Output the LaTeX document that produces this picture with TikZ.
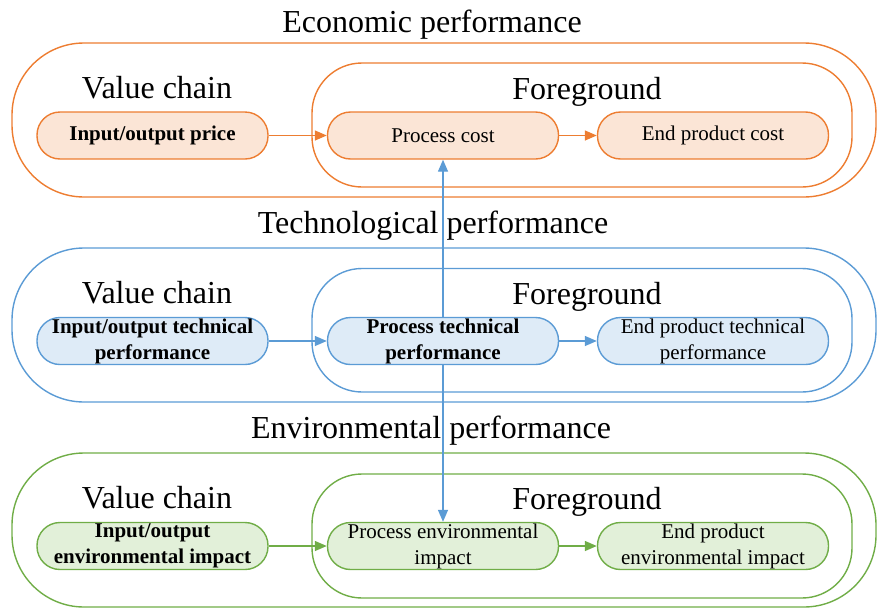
\documentclass[tikz,border=0pt]{standalone}
\usepackage{fontspec}
\setmainfont{Liberation Serif}
\usetikzlibrary{arrows.meta}

\definecolor{ecoline}{HTML}{ED7D31}
\definecolor{ecofill}{HTML}{FBE5D6}
\definecolor{techline}{HTML}{5B9BD5}
\definecolor{techfill}{HTML}{DEEBF7}
\definecolor{envline}{HTML}{70AD47}
\definecolor{envfill}{HTML}{E2F0D9}

\begin{document}
\begin{tikzpicture}[x=1pt, y=-1pt,
    outerband/.style={line width=1.4pt, rounded corners=72pt},
    innerband/.style={line width=1.4pt, rounded corners=50pt},
    heading/.style={anchor=base, font=\fontsize{32}{36}\selectfont},
    stage/.style={line width=1.4pt, rounded corners=23pt, minimum width=231pt,
                  minimum height=47pt, inner sep=0pt, align=center,
                  font=\fontsize{21}{26}\selectfont},
    flow/.style={line width=1.4pt, -{Triangle[length=12pt, width=10pt]}},
    link/.style={line width=1.4pt, {Triangle[length=12pt, width=10pt]}-{Triangle[length=12pt, width=10pt]}}]
    \useasboundingbox (0,0) rectangle (877,608);

    % economic
    \draw [ecoline, outerband] (12,43) rectangle (876,197);
    \draw [ecoline, innerband] (312,63) rectangle (852,187);
    \node [heading] (ecotitle) at (432,32) {Economic performance};
    \node [heading] (ecovc) at (157,98) {Value chain};
    \node [heading] (ecofg) at (587,99) {Foreground};
    \node [stage, draw=ecoline, fill=ecofill] (ioprice) at (152.5,135.5) {\textbf{Input/output price}};
    \node [stage, draw=ecoline, fill=ecofill] (pcost) at (443,135.5) {Process cost};
    \node [stage, draw=ecoline, fill=ecofill] (ecost) at (713,135.5) {End product cost};
    \draw [flow, ecoline] (ioprice) -- (pcost);
    \draw [flow, ecoline] (pcost) -- (ecost);

    % technological
    \draw [techline, outerband] (12,248) rectangle (876,402);
    \draw [techline, innerband] (312,268.5) rectangle (852,392);
    \node [heading] (techtitle) at (433,233) {Technological performance};
    \node [heading] (techvc) at (157,303) {Value chain};
    \node [heading] (techfg) at (587,304) {Foreground};

    % environmental
    \draw [envline, outerband] (12,453) rectangle (876,607);
    \draw [envline, innerband] (312,474) rectangle (852,598);
    \node [heading] (envtitle) at (431,438) {Environmental performance};
    \node [heading] (envvc) at (157,508) {Value chain};
    \node [heading] (envfg) at (587,509) {Foreground};
    \node [stage, draw=envline, fill=envfill] (ioenv) at (152.5,546) {\textbf{Input/output}\\\textbf{environmental impact}};
    \node [stage, draw=envline, fill=envfill] (penv) at (443,546) {Process environmental\\impact};
    \node [stage, draw=envline, fill=envfill] (eenv) at (713,546) {End product\\environmental impact};
    \draw [flow, envline] (ioenv) -- (penv);
    \draw [flow, envline] (penv) -- (eenv);

    % process link through all three levels
    \draw [link, techline] (penv.north) -- (pcost.south);

    \node [stage, draw=techline, fill=techfill] (iotech) at (152.5,341) {\textbf{Input/output technical}\\\textbf{performance}};
    \node [stage, draw=techline, fill=techfill] (ptech) at (443,341) {\textbf{Process technical}\\\textbf{performance}};
    \node [stage, draw=techline, fill=techfill] (etech) at (713,341) {End product technical\\performance};
    \draw [flow, techline] (iotech) -- (ptech);
    \draw [flow, techline] (ptech) -- (etech);
\end{tikzpicture}
\end{document}
